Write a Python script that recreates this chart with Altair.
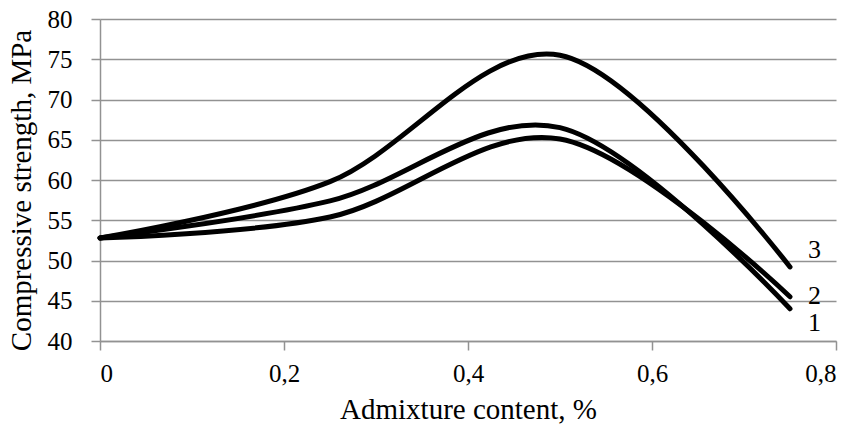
import altair as alt
import pandas as pd

# Admixture content (%) at which strength was measured
admixture = [0, 0.25, 0.5, 0.75]

# Compressive strength (MPa) for the three mixes
series_1 = [52.8, 57.4, 66.5, 44.0]
series_2 = [52.8, 55.4, 65.1, 45.5]
series_3 = [52.8, 59.8, 75.5, 49.2]

curve_names = ["1", "2", "3"]
curve_values = [series_1, series_2, series_3]

rows = []
for name, values in zip(curve_names, curve_values):
    for x, y in zip(admixture, values):
        rows.append({"curve": name, "content": x, "strength": y})
df = pd.DataFrame(rows)

FONT = "Times New Roman"
GRID = "#929292"

x_scale = alt.Scale(domain=[0, 0.8], nice=False)
y_scale = alt.Scale(domain=[40, 80], nice=False)

common_axis = dict(
    labelFont=FONT,
    titleFont=FONT,
    labelFontSize=25,
    titleFontSize=29,
    labelColor="black",
    titleColor="black",
    titleFontWeight="normal",
    domainColor=GRID,
    tickColor=GRID,
    domainWidth=1.5,
    tickWidth=1.5,
)

x_axis = alt.Axis(
    title="Admixture content, %",
    values=[0, 0.2, 0.4, 0.6, 0.8],
    labelExpr="replace(format(datum.value, '.1~f'), '.', ',')",
    grid=False,
    tickSize=9,
    labelPadding=11,
    titlePadding=9,
    **common_axis,
)
y_axis = alt.Axis(
    title="Compressive strength, MPa",
    values=[40, 45, 50, 55, 60, 65, 70, 75, 80],
    grid=True,
    gridColor=GRID,
    gridWidth=1.5,
    tickSize=9,
    labelPadding=19,
    titleX=-79,
    titleY=171,
    titleAlign="center",
    titleBaseline="middle",
    titleAngle=-90,
    **common_axis,
)

lines = (
    alt.Chart(df)
    .mark_line(interpolate="cardinal", color="black", strokeWidth=5, strokeCap="round")
    .encode(
        x=alt.X("content:Q", scale=x_scale, axis=x_axis),
        y=alt.Y("strength:Q", scale=y_scale, axis=y_axis),
        detail="curve:N",
    )
)

# Curve numbers placed just right of each line's last point
ends = pd.DataFrame(
    {
        "curve": curve_names,
        "content": [admixture[-1]] * 3,
        "strength": [v[-1] for v in curve_values],
    }
)
label_shift = {"1": 14, "2": -1, "3": -17}
labels = [
    alt.Chart(ends[ends["curve"] == name])
    .mark_text(font=FONT, fontSize=26, color="black", align="left", baseline="middle", dx=18, dy=label_shift[name])
    .encode(x="content:Q", y="strength:Q", text="curve:N")
    for name in curve_names
]

chart = (
    alt.layer(lines, *labels)
    .properties(
        width=736,
        height=322,
        autosize=alt.AutoSizeParams(type="none"),
        padding={"left": 100, "top": 19, "right": 19, "bottom": 91},
        background="white",
    )
    .configure(font=FONT)
    .configure_view(stroke=None)
)

chart.save("out.html", embed_options={"renderer": "svg", "actions": False})
